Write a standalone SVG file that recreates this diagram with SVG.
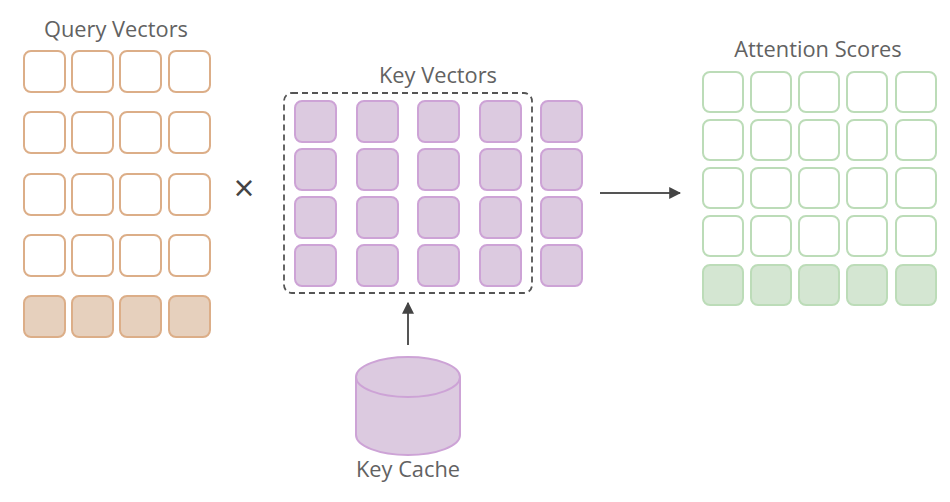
<svg xmlns="http://www.w3.org/2000/svg" width="950" height="502" viewBox="0 0 950 502">
<defs>
<style>
.t{font-family:"Open Sans","Noto Sans",sans-serif;font-size:21.8px;font-weight:400;fill:#626262;text-anchor:middle}
.q{fill:#ffffff;stroke:#dcae88;stroke-width:2}
.qf{fill:#e6d0bd;stroke:#dcae88;stroke-width:2}
.k{fill:#dccae0;stroke:#cda3d6;stroke-width:2}
.a{fill:#ffffff;stroke:#bcdcb8;stroke-width:2}
.af{fill:#d4e6d2;stroke:#bcdcb8;stroke-width:2}
.ln{stroke:#555;stroke-width:2;fill:none}
</style>
<marker id="ah" viewBox="0 0 10 10" refX="9" refY="5" markerWidth="6" markerHeight="6" orient="auto"><path d="M0,0 L10,5 L0,10 z" fill="#444"/></marker>
</defs>
<rect width="950" height="502" fill="#ffffff"/>
<g id="query">
<text class="t" x="116" y="37">Query Vectors</text>
<g class="q">
<rect x="24" y="51" width="41" height="41" rx="7"/><rect x="72" y="51" width="41" height="41" rx="7"/><rect x="120" y="51" width="41" height="41" rx="7"/><rect x="169" y="51" width="41" height="41" rx="7"/>
<rect x="24" y="112" width="41" height="41" rx="7"/><rect x="72" y="112" width="41" height="41" rx="7"/><rect x="120" y="112" width="41" height="41" rx="7"/><rect x="169" y="112" width="41" height="41" rx="7"/>
<rect x="24" y="174" width="41" height="41" rx="7"/><rect x="72" y="174" width="41" height="41" rx="7"/><rect x="120" y="174" width="41" height="41" rx="7"/><rect x="169" y="174" width="41" height="41" rx="7"/>
<rect x="24" y="235" width="41" height="41" rx="7"/><rect x="72" y="235" width="41" height="41" rx="7"/><rect x="120" y="235" width="41" height="41" rx="7"/><rect x="169" y="235" width="41" height="41" rx="7"/>
</g>
<g class="qf">
<rect x="24" y="296" width="41" height="41" rx="7"/><rect x="72" y="296" width="41" height="41" rx="7"/><rect x="120" y="296" width="41" height="41" rx="7"/><rect x="169" y="296" width="41" height="41" rx="7"/>
</g>
</g>
<g id="times">
<text x="244" y="201" style="font-family:'Open Sans',sans-serif;font-weight:400;font-size:36px;fill:#444;text-anchor:middle">×</text>
</g>
<g id="keys">
<text class="t" x="438" y="83">Key Vectors</text>
<rect x="284" y="93" width="248" height="200" rx="8" fill="none" stroke="#555" stroke-width="1.8" stroke-dasharray="6,4"/>
<g class="k">
<rect x="295" y="101" width="41" height="41" rx="7"/><rect x="357" y="101" width="41" height="41" rx="7"/><rect x="418" y="101" width="41" height="41" rx="7"/><rect x="480" y="101" width="41" height="41" rx="7"/><rect x="541" y="101" width="41" height="41" rx="7"/>
<rect x="295" y="149" width="41" height="41" rx="7"/><rect x="357" y="149" width="41" height="41" rx="7"/><rect x="418" y="149" width="41" height="41" rx="7"/><rect x="480" y="149" width="41" height="41" rx="7"/><rect x="541" y="149" width="41" height="41" rx="7"/>
<rect x="295" y="197" width="41" height="41" rx="7"/><rect x="357" y="197" width="41" height="41" rx="7"/><rect x="418" y="197" width="41" height="41" rx="7"/><rect x="480" y="197" width="41" height="41" rx="7"/><rect x="541" y="197" width="41" height="41" rx="7"/>
<rect x="295" y="245" width="41" height="41" rx="7"/><rect x="357" y="245" width="41" height="41" rx="7"/><rect x="418" y="245" width="41" height="41" rx="7"/><rect x="480" y="245" width="41" height="41" rx="7"/><rect x="541" y="245" width="41" height="41" rx="7"/>
</g>
</g>
<g id="scores">
<text class="t" x="818" y="57">Attention Scores</text>
<g class="a">
<rect x="703" y="72" width="40" height="40" rx="7"/><rect x="751" y="72" width="40" height="40" rx="7"/><rect x="799" y="72" width="40" height="40" rx="7"/><rect x="847" y="72" width="40" height="40" rx="7"/><rect x="896" y="72" width="40" height="40" rx="7"/>
<rect x="703" y="120" width="40" height="40" rx="7"/><rect x="751" y="120" width="40" height="40" rx="7"/><rect x="799" y="120" width="40" height="40" rx="7"/><rect x="847" y="120" width="40" height="40" rx="7"/><rect x="896" y="120" width="40" height="40" rx="7"/>
<rect x="703" y="168" width="40" height="40" rx="7"/><rect x="751" y="168" width="40" height="40" rx="7"/><rect x="799" y="168" width="40" height="40" rx="7"/><rect x="847" y="168" width="40" height="40" rx="7"/><rect x="896" y="168" width="40" height="40" rx="7"/>
<rect x="703" y="216" width="40" height="40" rx="7"/><rect x="751" y="216" width="40" height="40" rx="7"/><rect x="799" y="216" width="40" height="40" rx="7"/><rect x="847" y="216" width="40" height="40" rx="7"/><rect x="896" y="216" width="40" height="40" rx="7"/>
</g>
<g class="af">
<rect x="703" y="265" width="40" height="40" rx="7"/><rect x="751" y="265" width="40" height="40" rx="7"/><rect x="799" y="265" width="40" height="40" rx="7"/><rect x="847" y="265" width="40" height="40" rx="7"/><rect x="896" y="265" width="40" height="40" rx="7"/>
</g>
</g>
<g id="keycache">
<path d="M356,377 L356,435 A52,20 0 0 0 460,435 L460,377" fill="#dccae0" stroke="#cda3d6" stroke-width="2"/>
<ellipse cx="408" cy="377" rx="52" ry="20" fill="#dccae0" stroke="#cda3d6" stroke-width="2"/>
<text class="t" x="408" y="477">Key Cache</text>
</g>
<g id="connectors">
<line class="ln" x1="408" y1="345" x2="408" y2="303" marker-end="url(#ah)"/>
<line class="ln" x1="600" y1="193" x2="680" y2="193" marker-end="url(#ah)"/>
</g>
</svg>
